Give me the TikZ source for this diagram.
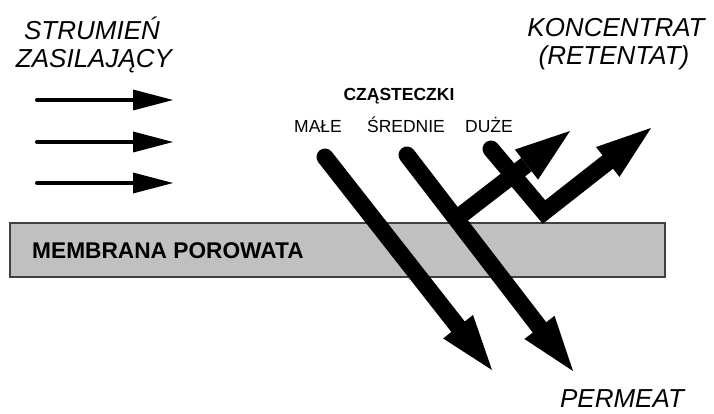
\documentclass[tikz,border=0pt]{standalone}
\usepackage{fontspec}
\setmainfont{Liberation Sans}
\usetikzlibrary{arrows.meta}
\begin{document}
\begin{tikzpicture}[x=1pt,y=-1pt,
  big/.style={line width=17pt, line cap=round, line join=miter,
    -{Triangle[length=55pt,width=38pt,line width=0pt]}},
  feed/.style={line width=4pt, line cap=round,
    -{Triangle[length=40pt,width=21pt,line width=0pt]}},
  biglabel/.style={font=\fontsize{26}{30}\selectfont\itshape, inner sep=0pt, anchor=base},
  small/.style={font=\fontsize{17.5}{21}\selectfont, inner sep=0pt, anchor=base},
  membrane/.style={fill={rgb,255:red,192;green,192;blue,192}, draw={rgb,255:red,64;green,64;blue,64}, line width=1.3pt},
]
\useasboundingbox (0,0) rectangle (714,414);

% membrane
\draw[membrane] (10,223) rectangle (665,277);
\node[anchor=base west, inner sep=0pt, font=\fontsize{22.7}{27}\selectfont\bfseries] (mem) at (32,258) {MEMBRANA POROWATA};

% labels
\node[biglabel] (str) at (92,40) {STRUMIEŃ};
\node[biglabel] (zas) at (94,68) {ZASILAJĄCY};
\node[biglabel] (kon) at (616,37) {KONCENTRAT};
\node[biglabel] (ret) at (614,65) {(RETENTAT)};
\node[biglabel] (per) at (622,407) {PERMEAT};
\node[small, font=\fontsize{17.5}{21}\selectfont\bfseries] (cz) at (399,101) {CZĄSTECZKI};
\node[small] (ma) at (318,133) {MAŁE};
\node[small] (sr) at (406,133) {ŚREDNIE};
\node[small] (du) at (489,133) {DUŻE};

% feed arrows
\coordinate (f1a) at (37,100);  \coordinate (f1b) at (173,100);
\coordinate (f2a) at (37,142);  \coordinate (f2b) at (173,142);
\coordinate (f3a) at (37,183);  \coordinate (f3b) at (173,183);
\draw[feed] (f1a) -- (f1b);
\draw[feed] (f2a) -- (f2b);
\draw[feed] (f3a) -- (f3b);

% particle arrows
\coordinate (m0) at (325,157); \coordinate (m1) at (492,370);
\coordinate (s0) at (407,155); \coordinate (s1) at (573,371);
\coordinate (b0) at (456,219); \coordinate (b1) at (570,131);
\coordinate (d0) at (491,149); \coordinate (dv) at (544,212); \coordinate (d1) at (651,128);
\draw[big] (m0) -- (m1);
\draw[big] (s0) -- (s1);
\draw[big, line cap=butt] (b0) -- (b1);
\draw[big] (d0) -- (dv) -- (d1);
\end{tikzpicture}
\end{document}
